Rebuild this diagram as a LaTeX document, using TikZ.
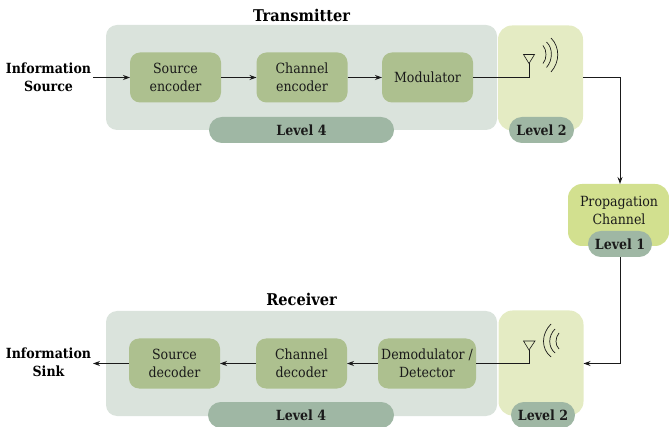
\documentclass[tikz,border=0pt]{standalone}
\usepackage{fontspec}
\setmainfont[BoldFont={DejaVu Serif Condensed Bold}]{DejaVu Serif Condensed}
\usetikzlibrary{arrows.meta,calc}
\definecolor{bgc}{HTML}{DAE3DC}
\definecolor{lvltwo}{HTML}{E4EBC3}
\definecolor{boxc}{HTML}{ADC08F}
\definecolor{pillc}{HTML}{9FB7A4}
\definecolor{propc}{HTML}{D2E08F}
\definecolor{txtc}{HTML}{1A1A1A}
\tikzset{
  px/.style={x=1pt,y=-1pt},
  panel/.style={fill=#1,draw=none,inner sep=0,outer sep=0},
  stage/.style={fill=boxc,rounded corners=10pt,minimum width=91pt,minimum height=50pt,inner sep=0,outer sep=0,
    align=center,font=\fontsize{14}{18}\selectfont,text=txtc},
  pill/.style={fill=pillc,rounded corners=12.9pt,minimum height=26pt,inner sep=0,outer sep=0,
    font=\bfseries\fontsize{14}{14}\selectfont,text=txtc},
  heading/.style={font=\bfseries\fontsize{16.2}{16}\selectfont,text=black},
  endlabel/.style={align=center,font=\bfseries\fontsize{14}{18}\selectfont,text=black},
  link/.style={draw=txtc,line width=0.9pt,-{Stealth[length=7pt,width=5pt]}},
  plainlink/.style={draw=txtc,line width=0.9pt},
  ant/.style={draw=txtc,line width=0.6pt},
}
\begin{document}
\begin{tikzpicture}[px]
\useasboundingbox (0,0) rectangle (669,427);
% panels
\node[panel=bgc,rounded corners=11pt,minimum width=391pt,minimum height=105pt] (txpanel) at (301.5,77.5) {};
\node[panel=lvltwo,rounded corners=14pt,minimum width=85pt,minimum height=105pt] (txlevel) at (540.5,78) {};
\node[panel=bgc,rounded corners=11pt,minimum width=391pt,minimum height=105pt] (rxpanel) at (301.5,363.5) {};
\node[panel=lvltwo,rounded corners=14pt,minimum width=85pt,minimum height=105pt] (rxlevel) at (541,363) {};
\node[panel=propc,rounded corners=14pt,minimum width=101pt,minimum height=62pt] (prop) at (618.5,215) {};
\node[text=txtc,align=center,font=\fontsize{14}{18}\selectfont] (proptext) at (619,210.5) {Propagation\\Channel};
% pills
\node[pill,minimum width=185pt] (txl4) at (301.5,130) {Level 4};
\node[pill,minimum width=65pt] (txl2) at (541.5,130) {Level 2};
\node[pill,minimum width=64pt] (l1) at (620,244) {Level 1};
\node[pill,minimum width=186pt] (rxl4) at (301,415) {Level 4};
\node[pill,minimum width=64pt] (rxl2) at (543,415) {Level 2};
% stages
\node[stage] (senc) at (175.5,77.5) {Source\\encoder};
\node[stage] (cenc) at (302,77.5) {Channel\\encoder};
\node[stage] (mod) at (427.5,77.5) {Modulator};
\node[stage] (sdec) at (174.5,363.5) {Source\\decoder};
\node[stage] (cdec) at (301.5,363.5) {Channel\\decoder};
\node[stage,minimum width=98pt] (demod) at (427,363.5) {Demodulator /\\Detector};
% headings
\node[heading] (txh) at (301.5,15) {Transmitter};
\node[heading] (rxh) at (301.5,299.5) {Receiver};
\node[endlabel] (isrc) at (48.5,77) {Information\\Source};
\node[endlabel] (isnk) at (48.5,362) {Information\\Sink};
% antennas
\coordinate (txa) at (529,77.5);
\coordinate (txt) at (529,63.5);
\coordinate (rxa) at (529,363.5);
\coordinate (rxt) at (529,350);
\draw[ant] (txt) -- (523.5,54.5) -- (534.5,54.5) -- cycle;
\draw[ant] (rxt) -- (523.5,341) -- (535,341) -- cycle;
\draw[plainlink] (mod.east) -- (txa) -- (txt);
\draw[plainlink] (demod.east) -- (rxa) -- (rxt);
% waves
\draw[ant,line width=0.7pt] (543,45.5) .. controls (547,50) and (547,59) .. (543,63.5);
\draw[ant,line width=0.7pt] (546.5,42) .. controls (553,48) and (553,60) .. (546.5,67.5);
\draw[ant,line width=0.7pt] (551,38) .. controls (560,47) and (560,62) .. (551,72);
\draw[ant,line width=0.7pt] (559,333) .. controls (555,338) and (555,345) .. (559,349);
\draw[ant,line width=0.7pt] (555,329) .. controls (548,336) and (548,347) .. (555,353);
\draw[ant,line width=0.7pt] (551,324) .. controls (541,334) and (541,349) .. (551,357);
% connectors
\coordinate (srcend) at (93,77.5);
\coordinate (snkend) at (93,363.5);
\draw[link] (srcend) -- (senc.west);
\draw[link] (senc.east) -- (cenc.west);
\draw[link] (cenc.east) -- (mod.west);
\draw[link] (sdec.west) -- (snkend);
\draw[link] (cdec.west) -- (sdec.east);
\draw[link] (demod.west) -- (cdec.east);
\draw[link] (txlevel.east |- txa) -| (prop.north -| l1);
\draw[link] (l1.south) |- (rxlevel.east |- rxa);
\end{tikzpicture}
\end{document}
